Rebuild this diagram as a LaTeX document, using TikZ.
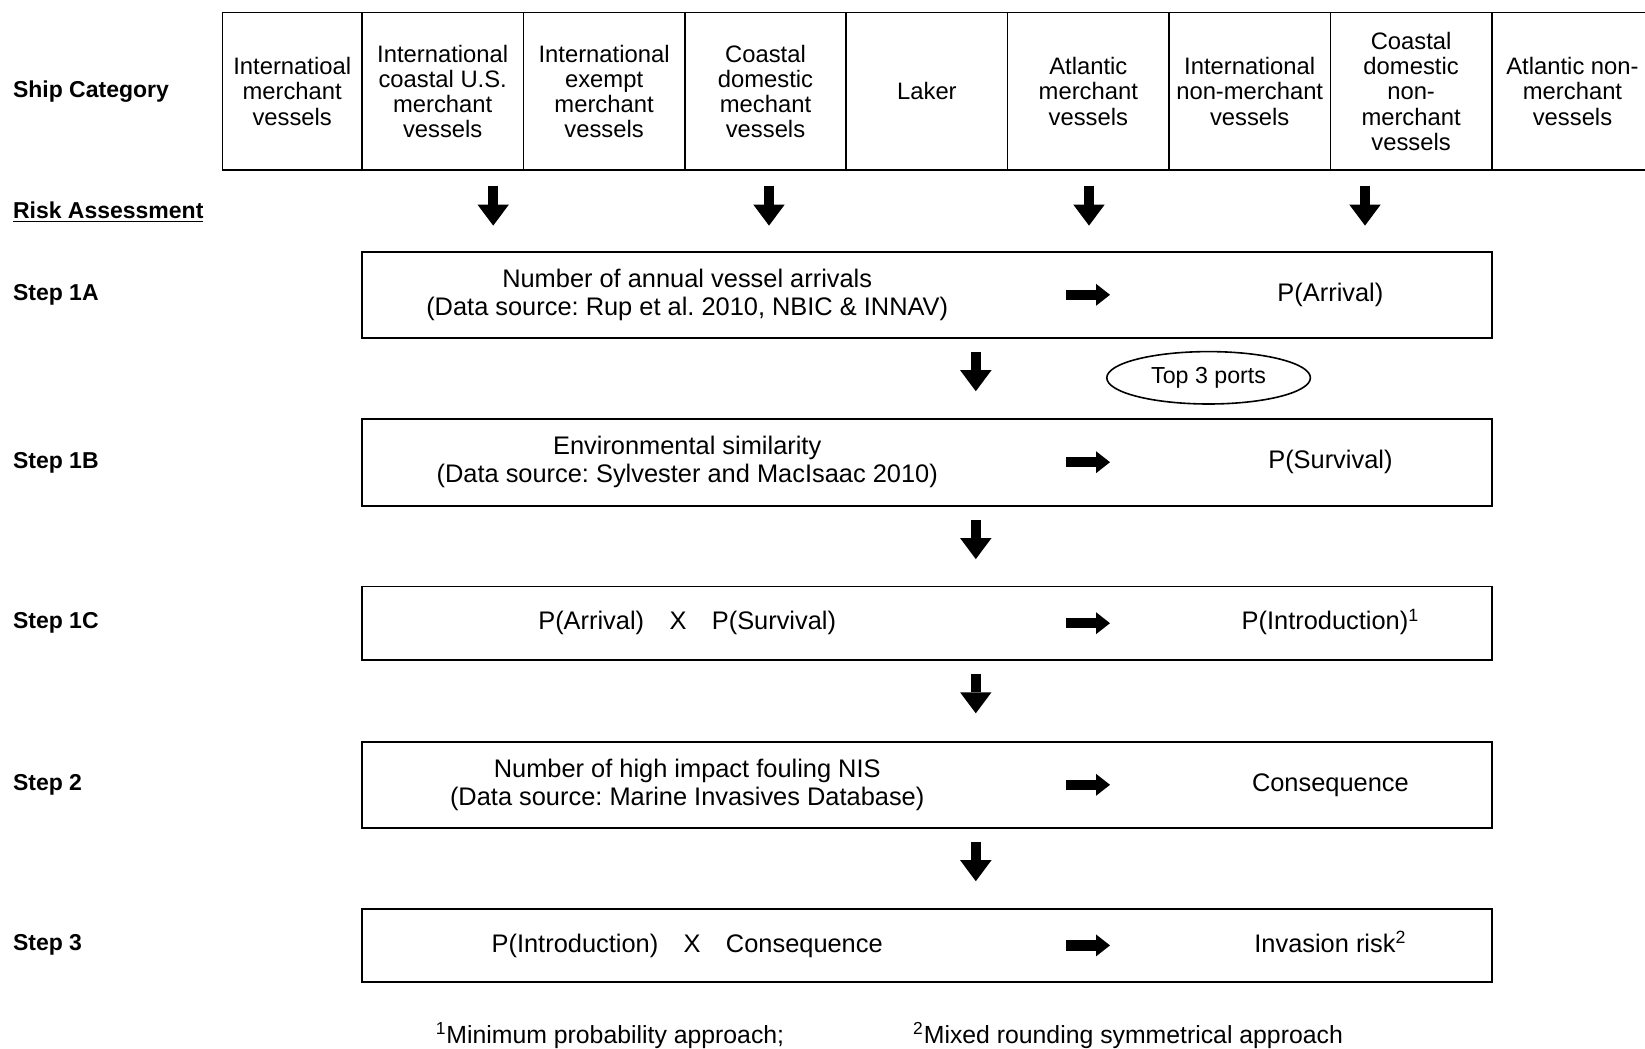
\documentclass[tikz,border=0pt]{standalone}
\usepackage{fontspec}
\setmainfont{Liberation Sans}
\usetikzlibrary{arrows.meta, positioning, shapes.geometric}
\frenchspacing

\tikzset{
  cat/.style={draw, line width=0.8pt, minimum width=80.7pt, minimum height=78.7pt,
    inner sep=0pt, outer sep=0pt, align=center, font=\fontsize{11.9pt}{12.6pt}\selectfont},
  stepbox/.style={draw, line width=0.8pt, minimum width=565pt, inner sep=0pt},
  boxtxt/.style={align=center, inner sep=0pt, font=\fontsize{12.7pt}{14.2pt}\selectfont},
  restxt/.style={boxtxt, text height=9.6pt, text depth=3pt},
  lbl/.style={anchor=west, inner sep=0pt, font=\fontsize{11.5pt}{13pt}\selectfont\bfseries},
  fatdown/.style={line width=5.2pt, -{Triangle[width=15.7pt,length=10.5pt,line width=0pt]}},
  fatright/.style={line width=5.2pt, -{Triangle[width=11pt,length=7pt,line width=0pt]}},
  fnote/.style={anchor=west, inner sep=0pt, font=\fontsize{12.4pt}{14pt}\selectfont}
}

\begin{document}
\begin{tikzpicture}[x=1pt,y=-1pt]
\clip (0,0) rectangle (822.5,524.5);
% ship categories
\node[lbl] (lcat) at (6.3,45.6) {Ship Category};
\node[cat, minimum width=69.8pt, anchor=north west] (c1) at (111.2,6.3) {Internatioal\\merchant\\vessels};
\node[cat, right=0pt of c1] (c2) {International\\coastal U.S.\\merchant\\vessels};
\node[cat, right=0pt of c2] (c3) {International\\exempt\\merchant\\vessels};
\node[cat, right=0pt of c3] (c4) {Coastal\\domestic\\mechant\\vessels};
\node[cat, right=0pt of c4] (c5) {Laker};
\node[cat, right=0pt of c5] (c6) {Atlantic\\merchant\\vessels};
\node[cat, right=0pt of c6] (c7) {International\\non-merchant\\vessels};
\node[cat, right=0pt of c7] (c8) {Coastal\\domestic\\non-\\merchant\\vessels};
\node[cat, right=0pt of c8] (c9) {Atlantic non-\\merchant\\vessels};

% risk assessment
\node[lbl] (lrisk) at (6.3,105.9) {\underline{Risk Assessment}};
\foreach \s/\y in {1A/147.6,1B/231.5,1C/311.3,2/392.6,3/472.3}
  \node[lbl] (t\s) at (6.3,\y) {Step \s};

\node[stepbox, minimum height=43pt] (s1A) at (463.5,147.4) {};
\node[stepbox, minimum height=43.5pt] (s1B) at (463.5,231.1) {};
\node[stepbox, minimum height=36.7pt] (s1C) at (463.5,311.6) {};
\node[stepbox, minimum height=43pt] (s2) at (463.5,392.4) {};
\node[stepbox, minimum height=36.7pt] (s3) at (463.5,472.7) {};

\coordinate (lx) at (343.6,0);
\coordinate (rx) at (665.2,0);
\node[boxtxt] (l1A) at (s1A -| lx) {Number of annual vessel arrivals\\(Data source: Rup et al. 2010, NBIC \& INNAV)};
\node[boxtxt] (l1B) at (s1B -| lx) {Environmental similarity\\(Data source: Sylvester and MacIsaac 2010)};
\node[restxt] (l1C) at (s1C -| lx) {P(Arrival)\quad X\quad P(Survival)};
\node[boxtxt] (l2) at (s2 -| lx) {Number of high impact fouling NIS\\(Data source: Marine Invasives Database)};
\node[restxt] (l3) at (s3 -| lx) {P(Introduction)\quad X\quad Consequence};

\node[restxt] (r1A) at (s1A -| rx) {P(Arrival)};
\node[restxt] (r1B) at (s1B -| rx) {P(Survival)};
\node[restxt] (r1C) at (s1C -| rx) {P(Introduction)\smash{\textsuperscript{1}}};
\node[restxt] (r2) at (s2 -| rx) {Consequence};
\node[restxt] (r3) at (s3 -| rx) {Invasion risk\smash{\textsuperscript{2}}};

\node[ellipse, draw, line width=0.8pt, minimum width=101.8pt, minimum height=26.2pt, inner sep=0pt,
  font=\fontsize{11.6pt}{13pt}\selectfont] (ports) at (604.3,188.9) {Top 3 ports};

% arrows
\coordinate (ra) at (533,0);
\coordinate (rb) at (555,0);
\foreach \s in {1A,1B,1C,2,3}
  \draw[fatright] (s\s -| ra) -- (s\s -| rb);
\coordinate (m) at (487.9,0);
\foreach \a in {1A,1B,1C,2}
  \draw[fatdown] (s\a.south -| m) ++(0,6.8) -- ++(0,19.5);
\foreach \x [count=\i] in {246.6,384.5,544.5,682.5} {
  \coordinate (a\i) at (\x,0);
  \draw[fatdown] (c1.south -| a\i) ++(0,7.9) -- ++(0,19.9);
}

\node[fnote] (f1) at (217.7,517.8) {\textsuperscript{1}Minimum probability approach;};
\node[fnote] (f2) at (456.4,517.8) {\textsuperscript{2}Mixed rounding symmetrical approach};
\end{tikzpicture}
\end{document}
